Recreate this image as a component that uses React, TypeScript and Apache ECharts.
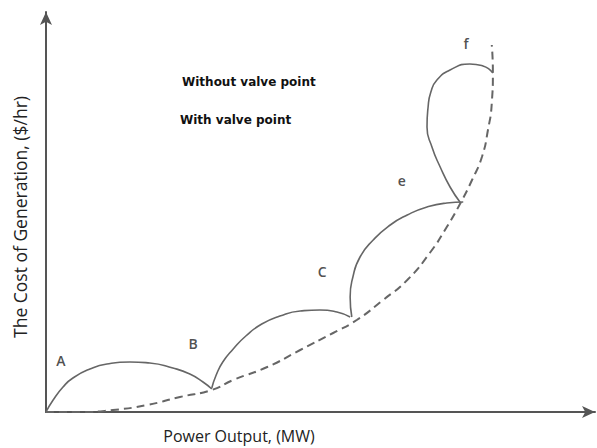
import React, { useEffect, useRef } from "react";
import * as echarts from "echarts";

// Quadratic cost curve (without valve point), data units
const withoutValve: [number, number][] = [
  [0, 0], [6.2, 0], [12.2, 0.5], [18.4, 1.75], [24.4, 3.75], [30.2, 5.5], [34.1, 8],
  [40.3, 11.25], [46.3, 15.5], [52.3, 19.75], [56.6, 23], [61.4, 28], [65.8, 33],
  [69.9, 39.75], [73, 46.25], [75.6, 52.5], [77.6, 58], [79.4, 63.75], [80.5, 70.5],
  [81.2, 77.25], [81.4, 85], [81.2, 91.75],
];

// Valve point loops (with valve point)
const loopA: [number, number][] = [
  [0, 0], [1.3, 3], [3.1, 6.25], [4.9, 8.5], [8, 10.75], [11.1, 12], [15.3, 12.5],
  [18.9, 12.25], [23.1, 11], [26.2, 9.5], [28.6, 7.5], [30.2, 5.75],
];
const loopB: [number, number][] = [
  [30.2, 6], [31, 9.25], [32.2, 12.5], [34.1, 15.75], [36.4, 19], [39.3, 22], [42.6, 24],
  [46.3, 25.25], [49.9, 25.5], [53, 25], [55.4, 23.75],
];
const loopC: [number, number][] = [
  [55.7, 23.75], [55.4, 28.75], [55.9, 33.75], [57.2, 38.75], [59.6, 43], [62.7, 46.75],
  [65.8, 49.25], [69.4, 51.25], [73, 52.25], [76, 52.5],
];
const loopE: [number, number][] = [
  [75.4, 52.5], [73.6, 56.25], [71.8, 61.25], [70.3, 66.25], [69.4, 71.25], [69.6, 76.25],
  [70.1, 80], [71.2, 83], [73.6, 85.5], [77.2, 87], [79.6, 86.5], [81.4, 84.75],
];

const pointLabels = ["A", "B", "C", "e", "f"];
const pointPos: [number, number][] = [
  [2.7, 13], [26.8, 17.25], [50.3, 35.25], [64.8, 58], [76.5, 92.25],
];

const legendTexts = ["Without valve point", "With valve point"];

export default function App() {
  const ref = useRef<HTMLDivElement>(null);
  useEffect(() => {
    if (!ref.current) return;
    const chart = echarts.init(ref.current, undefined, { renderer: "svg" });
    const axisLine = {
      show: true,
      symbol: ["none", "arrow"],
      symbolSize: [9, 13],
      symbolOffset: [0, 0],
      lineStyle: { color: "#555", width: 2 },
    };
    const solid = (data: [number, number][]) => ({
      type: "line",
      name: legendTexts[1],
      data,
      smooth: 0.55,
      showSymbol: false,
      lineStyle: { color: "#666", width: 1.6 },
    });
    chart.setOption({
      animation: false,
      grid: { left: 46, top: 12, right: 2, bottom: 36 },
      xAxis: {
        type: "value", min: 0, max: 100,
        axisLine, axisTick: { show: false }, axisLabel: { show: false }, splitLine: { show: false },
      },
      yAxis: {
        type: "value", min: 0, max: 100,
        axisLine, axisTick: { show: false }, axisLabel: { show: false }, splitLine: { show: false },
      },
      series: [
        {
          type: "line",
          name: legendTexts[0],
          data: withoutValve,
          smooth: 0.55,
          showSymbol: false,
          lineStyle: { color: "#666", width: 2, type: [8, 5] },
        },
        solid(loopA),
        solid(loopB),
        solid(loopC),
        solid(loopE),
        {
          type: "scatter",
          symbolSize: 0,
          data: pointPos.map((p, i) => ({ value: p, name: pointLabels[i] })),
          label: {
            show: true,
            position: "inside",
            formatter: "{b}",
            color: "#222",
            fontSize: 14,
            fontWeight: 600,
            fontFamily: "Open Sans",
          },
        },
      ],
      graphic: [
        {
          type: "text", left: 182, top: 76,
          style: { text: legendTexts[0], fontSize: 12, fontWeight: "bold", fontFamily: "DejaVu Sans", fill: "#111" },
        },
        {
          type: "text", left: 180, top: 114,
          style: { text: legendTexts[1], fontSize: 12, fontWeight: "bold", fontFamily: "DejaVu Sans", fill: "#111" },
        },
        {
          type: "text", x: 20, y: 217, rotation: Math.PI / 2,
          style: {
            text: "The Cost of Generation, ($/hr)", fontSize: 17.5, fontFamily: "Open Sans",
            fill: "#222", align: "center", verticalAlign: "middle",
          },
        },
        {
          type: "text", x: 239, y: 436,
          style: {
            text: "Power Output, (MW)", fontSize: 16, fontFamily: "Open Sans",
            fill: "#222", align: "center", verticalAlign: "middle",
          },
        },
      ],
    });
    return () => chart.dispose();
  }, []);
  return <div ref={ref} style={{ width: 597, height: 448, position: "absolute", left: 0, top: 0 }} />;
}
